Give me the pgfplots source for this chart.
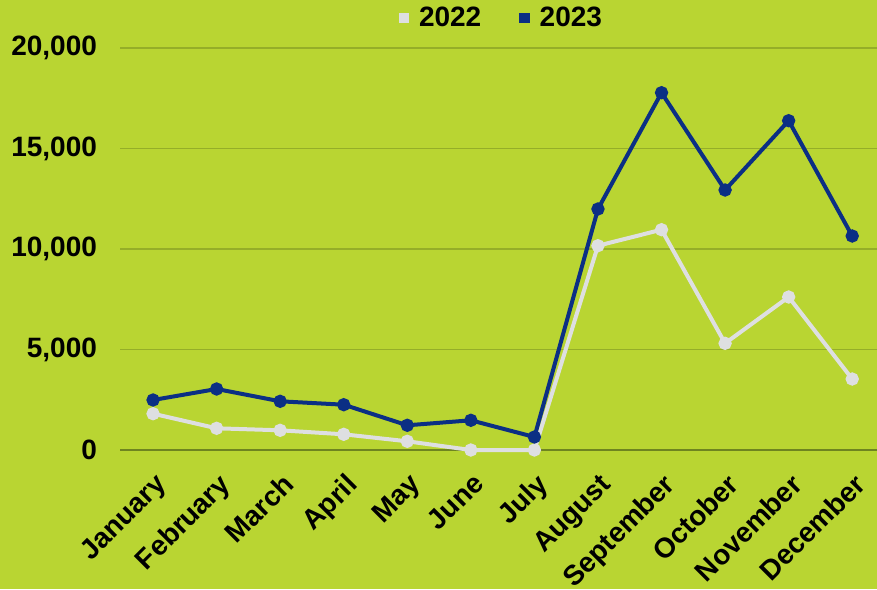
\documentclass[border=0pt]{standalone}
\usepackage{fontspec}
\setmainfont{Liberation Sans}
\usepackage{pgfplots}
\pgfplotsset{compat=1.18}

\definecolor{bg}{HTML}{B9D532}
\definecolor{navy}{HTML}{0B2F84}
\definecolor{lgray}{HTML}{DEDFE1}
\definecolor{gridc}{HTML}{95AE28}
\definecolor{zeroc}{HTML}{6E8420}

\begin{document}
\begin{tikzpicture}
\fill[bg] (-60pt,-69.5pt) rectangle (378.5pt,225pt);
\begin{axis}[
    scale only axis,
    width=378.5pt, height=201pt,
    xmin=-0.52, xmax=11.39,
    ymin=0, ymax=20000,
    xtick={0,...,11},
    xticklabels={January,February,March,April,May,June,July,August,September,October,November,December},
    ytick={0,5000,10000,15000,20000},
    scaled y ticks=false,
    axis line style={draw=none},
    tick style={draw=none},
    ymajorgrids,
    grid style={gridc, line width=0.6pt},
    font=\fontsize{14}{16}\selectfont\bfseries,
    /pgf/number format/assume math mode=true,
    /pgf/number format/.cd, fixed, 1000 sep={,},
    /pgfplots/.cd,
    yticklabel style={anchor=east, xshift=-8pt},
    xticklabel style={rotate=45, anchor=north east, xshift=-4pt, yshift=-4.5pt},
    legend style={at={(0.505,1.075)}, anchor=center, draw=none, fill=none,
        legend columns=2, font=\fontsize{14}{16}\selectfont\bfseries,
        /tikz/every odd column/.append style={column sep=3pt},
        /tikz/every even column/.append style={column sep=17pt}},
    legend image code/.code={\fill[#1, draw=none] (0pt,-2.6pt) rectangle (5.2pt,2.6pt);},
    clip=false,
]
    \draw[zeroc, line width=0.9pt] (rel axis cs:0,0) -- (rel axis cs:1,0);

    % 2022
    \addplot[lgray, line width=2pt, mark=*, mark size=2.3pt] coordinates {
        (0,1806) (1,1080) (2,980) (3,781) (4,433) (5,0) (6,0)
        (7,10164) (8,10960) (9,5308) (10,7612) (11,3532)};
    \addlegendentry{2022}

    % 2023
    \addplot[navy, line width=2pt, mark=*, mark size=2.3pt] coordinates {
        (0,2488) (1,3035) (2,2423) (3,2254) (4,1229) (5,1478) (6,647)
        (7,11990) (8,17776) (9,12935) (10,16383) (11,10647)};
    \addlegendentry{2023}
\end{axis}
\pgfresetboundingbox
\path[use as bounding box] (-60pt,-69.5pt) rectangle (378.5pt,225pt);
\end{tikzpicture}
\end{document}
